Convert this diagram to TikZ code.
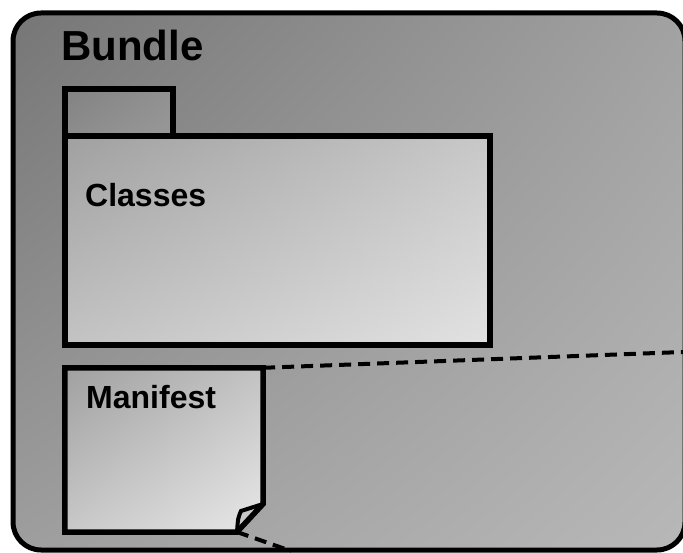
\documentclass[tikz,border=0pt]{standalone}
\usepackage{fontspec}
\setmainfont{Liberation Sans}
\usetikzlibrary{shadings}
\definecolor{oa}{RGB}{118,118,118}
\definecolor{ob}{RGB}{162,162,162}
\definecolor{oc}{RGB}{158,158,158}
\definecolor{od}{RGB}{184,184,184}
\definecolor{ta}{RGB}{130,130,130}
\definecolor{tb}{RGB}{145,145,145}
\definecolor{tc}{RGB}{140,140,140}
\definecolor{td}{RGB}{152,152,152}
\definecolor{ca}{RGB}{160,160,160}
\definecolor{cb}{RGB}{200,200,200}
\definecolor{cc}{RGB}{195,195,195}
\definecolor{cd}{RGB}{226,226,226}
\definecolor{ma}{RGB}{160,160,160}
\definecolor{mb}{RGB}{195,195,195}
\definecolor{mc}{RGB}{200,200,200}
\definecolor{md}{RGB}{232,232,232}
\definecolor{flap}{RGB}{200,200,200}
\begin{document}
\begin{tikzpicture}[x=1pt,y=-1pt,
  boxline/.style={line width=5.5pt},
  dashline/.style={line width=4pt, dash pattern=on 12pt off 7pt},
  titlefont/.style={font=\bfseries\fontsize{42}{42}\selectfont, inner sep=0pt, anchor=base west},
  labelfont/.style={font=\bfseries\fontsize{32}{32}\selectfont, inner sep=0pt, anchor=base west},
  area/.style={inner sep=0pt, draw=none}]
\useasboundingbox (0,0) rectangle (683,553);
\fill[white] (0,0) rectangle (683,553);
% outer bundle box
\shade[rounded corners=28pt, upper left=oa, upper right=ob, lower left=oc, lower right=od] (13,13) rectangle (685,550);
\node[area, minimum width=672pt, minimum height=537pt] (bundle) at (349,281.5) {};
% package tab
\shade[upper left=ta, upper right=tb, lower left=tc, lower right=td] (65,89) rectangle (173,136);
\node[area, minimum width=108pt, minimum height=47pt] (tab) at (119,112.5) {};
\draw[boxline] (65,136) -- (65,89) -- (173,89) -- (173,136);
% classes box
\shade[upper left=ca, upper right=cb, lower left=cc, lower right=cd] (65,136) rectangle (490,345);
\node[area, minimum width=425pt, minimum height=209pt] (classes) at (277.5,240.5) {};
\draw[boxline] (classes.north west) rectangle (classes.south east);
% manifest note
\node[area, minimum width=198pt, minimum height=164pt] (manifest) at (164,450) {};
\coordinate (fa) at (263,504);
\coordinate (fb) at (237,532);
\coordinate (fc) at (241,511);
\shade[upper left=ma, upper right=mb, lower left=mc, lower right=md]
  (manifest.north west) -- (manifest.north east) -- (fa) -- (fb) -- (manifest.south west) -- cycle;
\fill[flap] (fa) -- (fc) .. controls (238,518) .. (fb) -- cycle;
\draw[boxline] (manifest.north west) -- (manifest.north east) -- (fa) -- (fb) -- (manifest.south west) -- cycle;
\draw[line width=4pt] (fa) -- (fc) .. controls (238,518) .. (fb);
% dashed callout lines
\coordinate (d1) at (683,352);
\coordinate (d2) at (291,551);
\draw[dashline] (manifest.north east) -- (d1);
\draw[dashline] (fb) -- (d2);
\draw[line width=5pt, rounded corners=28pt] (13,13) rectangle (685,550);
% texts
\node[titlefont] (bundletitle) at (61,61) {Bundle};
\node[labelfont] (classestitle) at (85,207) {Classes};
\node[labelfont] (manifesttitle) at (86,408) {Manifest};
\end{tikzpicture}
\end{document}
